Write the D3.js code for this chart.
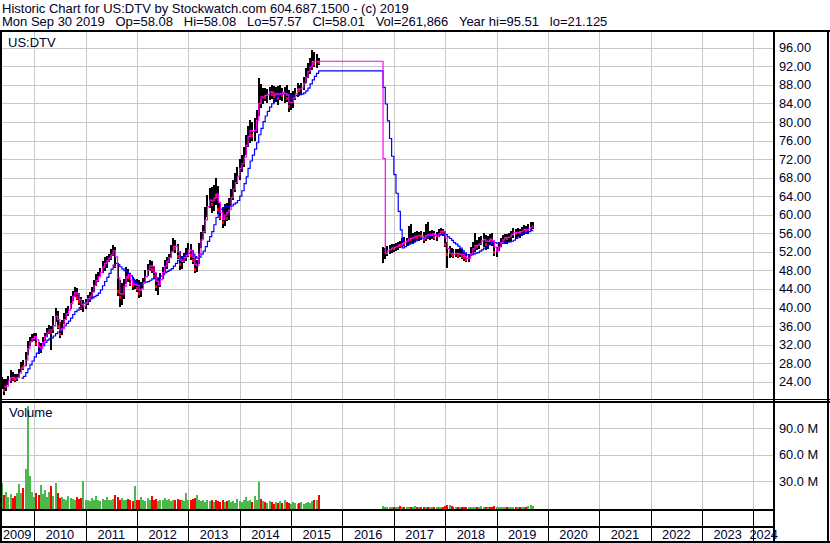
<!DOCTYPE html>
<html><head><meta charset="utf-8">
<script src="https://cdn.jsdelivr.net/npm/d3@7"></script>
<style>
body{margin:0;background:#fff}
svg{display:block}
text{font-family:"Liberation Sans",Arial,sans-serif;fill:#000028}
</style>
</head><body>
<svg id="chart" width="830" height="543"></svg>
<script>
// ---------------- DATA ----------------
const titleText = "Historic Chart for US:DTV by Stockwatch.com 604.687.1500 - (c) 2019";
const quoteText = "Mon Sep 30 2019  Op=58.08  Hi=58.08  Lo=57.57  Cl=58.01  Vol=261,866  Year hi=95.51  lo=21.125";
const symbolText = "US:DTV";
const volumeTitle = "Volume";
const yearLabels = [2009,2010,2011,2012,2013,2014,2015,2016,2017,2018,2019,2020,2021,2022,2023,2024];
const priceTicks = [24,28,32,36,40,44,48,52,56,60,64,68,72,76,80,84,88,92,96];
const volumeTicks = [30,60,90]; // millions

// Segment 1: half-monthly bars starting 2009-05-16
const seg1Start = "2009-05-16";
const seg1High = [25,24.5,24.6,25.2,26.5,26,25.6,25.7,26.8,28.2,
28.6,30.5,32.8,33.6,34.3,34.6,34.5,32.6,32.3,33.7,
34.6,35.6,36.2,36,38.2,39.9,39.2,36.8,37.2,38.8,
39.8,40.3,42.4,43.6,44.4,44.1,43.2,42.2,41.6,41.9,
42.8,43.3,44.5,46,47.3,47.6,48.6,50,50.9,51,
51.6,52.6,53.5,53,49.5,46,45.2,46.2,48.7,48.2,
47.2,46.6,46,46.2,45.9,45.6,46.4,48,49.4,50.2,
50,49,47.4,46.4,47.4,48.8,50.2,50.9,51.6,53.4,
55,54.6,53.6,52.2,51.2,51.8,52.8,53.9,53.6,52.4,
50.8,50.2,54,56.2,57.8,61.6,64.2,65.8,66,66.4,
67.9,66.2,62.5,61.6,62.4,62.6,63.6,65.5,67.4,69,
70.4,72,72.8,74.6,77.2,79.2,80.4,80,80.8,82.6,
89.5,88.3,87.3,87.3,87.2,87.6,88,87.8,87.6,87.8,
88,87.4,87.6,88,86.9,86.2,86.6,87.4,88.4,88,
88.4,89.6,91.6,92.7,93.8,95.5,95.2,94.6,93.8];
const seg1Low = [22.5,21.1,22,23.2,23.8,24.1,24,24.2,24.9,26,
26.6,27.3,29.8,31.8,32.5,32.8,31.6,29.9,30.1,31.7,
32.8,33.6,34.2,30.8,34.6,36.8,35.4,33.4,34,36.4,
37.4,38.2,39.6,41.4,42.2,41.6,40.6,39.4,39,39.7,
40.6,41.2,42,43.4,44.6,45.5,46.5,47.4,47.8,48.6,
49.8,50.3,51.2,48.6,42.4,40.1,40.5,41.8,45,45.6,
44.6,43.8,43.9,43.4,42,42.3,44.2,45.5,46.8,47.8,
47.5,46.2,43.6,42.7,44.5,46.2,47.4,48.4,49.6,50.9,
52.1,51.8,50.4,48.1,48.4,49.5,50.1,50.8,50.2,49.3,
47.4,47.6,49.4,52.9,54.8,56,59.5,61.4,60.4,60.8,
62.2,60.2,58.9,57.1,57.6,58.6,58.9,61.7,63.2,64.8,
66.6,67.5,69.2,70.2,72.8,74.6,75.4,75.8,76,77.6,
81.4,83,83.8,84.6,84,84.8,85,84.2,84.4,83.7,
84.8,84.6,84,84.4,82.2,82.6,83,84.8,85.3,85.6,
85.8,86.8,88.4,89.4,90.4,91.2,91.8,91.6,92.2];
const seg1Close = [23.5,22.3,23.8,24.6,25.2,24.7,24.5,25.3,26.4,27.6,
27.2,30.1,32.2,33,33.6,33.8,32.3,30.7,31.8,33.2,
34.1,34.9,35.5,34.8,37.4,38.8,36,34.3,36.6,38.2,
39.1,39.8,41.9,42.8,43.6,42.2,41.3,40.1,40.5,41.4,
42.3,42.6,44,45.4,46.3,47,48.1,49.3,49.7,50.4,
50.9,51.8,52.6,49.2,43.6,42.3,43.5,45.6,47.6,46.5,
45.3,44.8,45.2,44.3,43.1,44.9,45.8,47.4,48.6,49.4,
48.3,46.8,44.6,45.1,46.9,48.2,49.6,50.3,51.2,52.8,
53.6,52.9,51.2,49.3,50.6,50.9,51.6,53.2,51.4,50.2,
48.4,49.6,53.4,55.7,57,60.8,62.7,63.6,62.4,64.8,
64.1,61.3,59.6,58.4,61.5,59.4,62.8,64.6,66.4,67.5,
69.2,70.8,71.2,73.6,76.3,77.5,78.8,77.2,79.2,81.5,
86.4,84.5,85.9,85.6,86.2,86.8,86.1,85.5,86.8,85.2,
86.9,85.9,86.4,85.2,83.4,84.9,85.4,86.7,87.5,86.8,
87.9,88.8,90.6,91.2,92.6,93.4,92.8,93.2,93];
const seg1Volume = [28,14,18,12,15,11,13,16,27,17,
22,44,115,36,18,12,16,14,26,15,
20,12,18,24,13,28,16,11,12,10,
9,13,11,10,9,12,10,11,30,9,
8,7,11,8,13,9,7,10,8,12,
9,8,10,14,12,9,11,8,9,10,
8,7,24,9,8,12,9,7,11,8,
13,9,10,7,8,9,11,8,10,7,
9,8,10,9,8,7,16,9,8,10,
11,14,9,7,8,6,9,7,8,6,
9,7,6,8,6,7,9,6,7,5,
10,7,6,8,12,7,9,6,13,8,
29,10,7,6,5,7,6,4,6,5,
7,5,8,6,5,4,6,5,4,5,
6,4,5,6,5,7,8,9,14];

// Segment 2: half-monthly bars starting 2016-10-16
const seg2Start = "2016-10-16";
const seg2High = [53,52.8,53.2,53.4,53.6,53.8,54,54.1,54.4,55,
55.2,55,57.6,58,56,56.2,56.4,56.3,56.4,56.2,
58,58.4,56.6,56.8,56.6,56.2,57,57.2,57,56.6,
54.1,53.2,52.8,52.6,52.7,52.6,52.8,52.6,51.9,51.7,
51.6,53,54.1,56,54.6,55.2,55.4,56,55.6,55.4,
55.8,56,54.4,53,54.2,55,55.6,55.8,55.8,56,
56.6,57.1,57,57.2,57,57.4,57.8,57.6,58,58.4,
58.4];
const seg2Low = [49.6,50.4,51.2,51.6,51.8,52,52.2,52.4,52.8,53,
53.3,53.2,53.8,54,53.8,54.2,54.6,54.4,54.6,54,
54.4,54.8,54.6,54.8,54.6,54.4,55.2,55.6,55.4,53,
48.5,50.7,50.8,50.7,50.9,50.6,50.8,50.4,50,49.8,
49.8,51,51.3,52,52.4,52.6,53.4,53,52.4,52.6,
53.4,53.2,51.2,50.9,52.2,53,53.6,53.8,53.8,54.1,
54.4,55,55,55.2,55,55.4,55.6,55.8,55.8,56.4,
57];
const seg2Close = [51.2,52,52.4,52.6,53,52.9,53.3,53.6,53.4,54.2,
54,54.6,55,54.8,55.2,55.6,55.3,55.8,55.1,54.8,
56.2,55.4,55.7,56.1,55.2,55.5,56.3,56.6,56.2,53.8,
51.6,51.8,51.6,51.4,51.9,51.3,51.7,51.2,50.8,50.4,
50.9,52.2,53.1,53.6,53.2,54.3,54.4,55,53.6,54.9,
54.6,54.2,51.9,52.4,53.6,54.4,54.8,55.3,54.9,55.5,
55.9,56.3,56,56.4,56.2,56.8,56.9,56.6,57.2,57.4,
58];
const seg2Volume = [1.2,0.9,1,0.8,1.1,0.9,1,0.8,1.2,0.9,
1,0.8,1.1,0.9,1,1.2,0.8,0.9,1,0.8,
1.1,0.9,1,0.8,0.9,1,0.8,1.1,0.9,1.4,
3,2.4,1.2,1,0.9,1.1,0.8,1,0.9,0.8,
1,0.9,1.1,0.8,1,0.9,1.2,0.8,1,0.9,
1.1,0.8,1.3,1,0.9,0.8,1,0.9,1.1,0.8,
1,0.9,0.8,1,1.1,0.9,1,0.8,1.2,3.2,
1.6];

const shortMAbars = 2;  // magenta moving average (bars)
const longMAbars = 10;  // blue moving average (bars)

// ---------------- BUILD ----------------
function halfMonthDates(start, n) {
  let [y, m, d] = start.split("-").map(Number);
  m -= 1;
  const out = [];
  for (let i = 0; i < n; i++) {
    out.push(new Date(Date.UTC(y, m, d)));
    if (d === 1) d = 16; else { d = 1; m++; if (m > 11) { m = 0; y++; } }
  }
  return out;
}
function buildSeg(start, hi, lo, cl, vol) {
  const dates = halfMonthDates(start, cl.length);
  return cl.map((c, i) => ({date: dates[i], high: hi[i], low: lo[i], close: cl[i], volume: vol[i] * 1e6, first: i === 0}));
}
const bars = buildSeg(seg1Start, seg1High, seg1Low, seg1Close, seg1Volume)
  .concat(buildSeg(seg2Start, seg2High, seg2Low, seg2Close, seg2Volume));
bars.forEach((b, i) => {
  b.up = b.first ? true : b.close >= bars[i - 1].close;
  b.maS = i >= shortMAbars - 1 ? d3.mean(bars.slice(i - shortMAbars + 1, i + 1), d => d.close) : null;
  b.maL = i >= longMAbars - 1 ? d3.mean(bars.slice(i - longMAbars + 1, i + 1), d => d.close) : null;
});

// ---------------- LAYOUT ----------------
const W = 830, H = 543;
const plotL = 2, plotR = 774;
const priceTop = 32, priceBot = 400;
const volTop = 403, volBot = 509;
const rowMid = 527, rowBot = 541;

const svg = d3.select("#chart");
svg.append("rect").attr("width", W).attr("height", H).attr("fill", "#fff");

const x = d3.scaleUtc()
  .domain([new Date(Date.UTC(2010,0,1)), new Date(Date.UTC(2024,0,1))])
  .range([34.3, 753.3]);
const yP = d3.scaleLinear().domain([24, 96]).range([381.7, 47.8]);
const yV = d3.scaleLinear().domain([0, 90e6]).range([507.5, 428.3]);

const defs = svg.append("defs");
defs.append("clipPath").attr("id", "clipP").append("rect")
  .attr("x", plotL).attr("y", priceTop).attr("width", plotR - plotL).attr("height", priceBot - priceTop);
defs.append("clipPath").attr("id", "clipV").append("rect")
  .attr("x", plotL).attr("y", volTop).attr("width", plotR - plotL).attr("height", volBot - volTop);

const grid = "#c8c8c8";
const yearBounds = yearLabels.slice(1).map(yr => new Date(Date.UTC(yr, 0, 1)));

// gridlines
const g = svg.append("g").attr("shape-rendering", "crispEdges");
g.selectAll(".vgP").data(yearBounds).join("line")
  .attr("x1", d => Math.round(x(d)) + 0.5).attr("x2", d => Math.round(x(d)) + 0.5)
  .attr("y1", priceTop).attr("y2", priceBot).attr("stroke", grid);
g.selectAll(".vgV").data(yearBounds).join("line")
  .attr("x1", d => Math.round(x(d)) + 0.5).attr("x2", d => Math.round(x(d)) + 0.5)
  .attr("y1", volTop).attr("y2", volBot).attr("stroke", grid);
g.selectAll(".hgP").data(priceTicks).join("line")
  .attr("x1", plotL).attr("x2", plotR)
  .attr("y1", d => Math.round(yP(d)) + 0.5).attr("y2", d => Math.round(yP(d)) + 0.5).attr("stroke", grid);
g.selectAll(".hgV").data(volumeTicks).join("line")
  .attr("x1", plotL).attr("x2", plotR)
  .attr("y1", d => Math.round(yV(d * 1e6)) + 0.5).attr("y2", d => Math.round(yV(d * 1e6)) + 0.5).attr("stroke", grid);

// price bars
const pg = svg.append("g").attr("clip-path", "url(#clipP)");
pg.append("g").attr("shape-rendering", "crispEdges").selectAll("rect").data(bars).join("rect")
  .attr("x", d => Math.round(x(d.date)) - 1).attr("width", 2)
  .attr("y", d => yP(d.high)).attr("height", d => yP(d.low) - yP(d.high))
  .attr("fill", "#000");
pg.append("g").attr("shape-rendering", "crispEdges").selectAll("rect").data(bars.filter(d => !d.up)).join("rect")
  .attr("x", d => Math.round(x(d.date)) - 1).attr("width", 2)
  .attr("y", d => yP(d.close) - 1).attr("height", 3)
  .attr("fill", "#ff0000");

// moving averages
const lineS = d3.line().defined(d => d.maS != null).x(d => x(d.date)).y(d => yP(d.maS)).curve(d3.curveStepAfter);
const lineL = d3.line().defined(d => d.maL != null).x(d => x(d.date)).y(d => yP(d.maL)).curve(d3.curveStepAfter);
pg.append("path").attr("d", lineL(bars)).attr("fill", "none").attr("stroke", "#0000ff").attr("stroke-width", 1.2);
pg.append("path").attr("d", lineS(bars)).attr("fill", "none").attr("stroke", "#ff00ff").attr("stroke-width", 1.2);

// volume bars
const vg = svg.append("g").attr("clip-path", "url(#clipV)").attr("shape-rendering", "crispEdges");
vg.selectAll("rect").data(bars).join("rect")
  .attr("x", d => Math.round(x(d.date)) - 1).attr("width", 2)
  .attr("y", d => Math.min(yV(d.volume), volBot - 1)).attr("height", d => volBot - Math.min(yV(d.volume), volBot - 1))
  .attr("fill", d => d.up ? "#4cb84c" : "#ff0000");

// frame lines
const f = svg.append("g").attr("stroke", "#000").attr("shape-rendering", "crispEdges");
function hl(y, x1, x2, w) { f.append("line").attr("x1", x1).attr("x2", x2).attr("y1", y).attr("y2", y).attr("stroke-width", w); }
function vl(xx, y1, y2, w) { f.append("line").attr("x1", xx).attr("x2", xx).attr("y1", y1).attr("y2", y2).attr("stroke-width", w); }
hl(31, 0, W, 2);
hl(399.5, 0, W, 1);
hl(402, 0, W, 2);
hl(volBot + 0.5, 0, plotR, 2);
hl(rowMid, 0, plotR, 2);
hl(rowBot + 0.5, 0, W, 2);
vl(1, 30, H, 2);
vl(plotR, 30, rowBot + 1, 2);
vl(W - 2, 30, H, 2);
f.selectAll(".yb").data(yearBounds).join("line")
  .attr("x1", d => Math.round(x(d)) + 0.5).attr("x2", d => Math.round(x(d)) + 0.5)
  .attr("y1", volBot).attr("y2", rowBot).attr("stroke-width", 1);

// texts (wide gaps kept with non-breaking spaces)
const keepSpaces = s => s.replace(/  /g, "\u00a0\u00a0 ");
svg.append("text").attr("x", 2).attr("y", 12.5).attr("font-size", 13).text(titleText);
svg.append("text").attr("x", 2).attr("y", 26).attr("font-size", 13).text(keepSpaces(quoteText));
svg.append("text").attr("x", 8).attr("y", 47).attr("font-size", 13).text(symbolText);
svg.append("text").attr("x", 9).attr("y", 417).attr("font-size", 13).text(volumeTitle);

svg.append("g").selectAll("text").data(priceTicks).join("text")
  .attr("x", 779).attr("y", d => yP(d) + 4.5).attr("font-size", 12.8)
  .text(d => d3.format(".2f")(d));
svg.append("g").selectAll("text").data(volumeTicks).join("text")
  .attr("x", 779).attr("y", d => yV(d * 1e6) + 4.5).attr("font-size", 12.8)
  .text(d => d3.format(".1f")(d) + " M");

// year labels, centered in the visible part of each year cell
svg.append("g").selectAll("text").data(yearLabels).join("text")
  .attr("x", yr => {
    const a = Math.max(x(new Date(Date.UTC(yr, 0, 1))), 0);
    const b = Math.min(x(new Date(Date.UTC(yr + 1, 0, 1))), plotR);
    return (a + b) / 2;
  })
  .attr("y", 539).attr("text-anchor", "middle").attr("font-size", 12.8)
  .text(d => d);
</script>
</body></html>
